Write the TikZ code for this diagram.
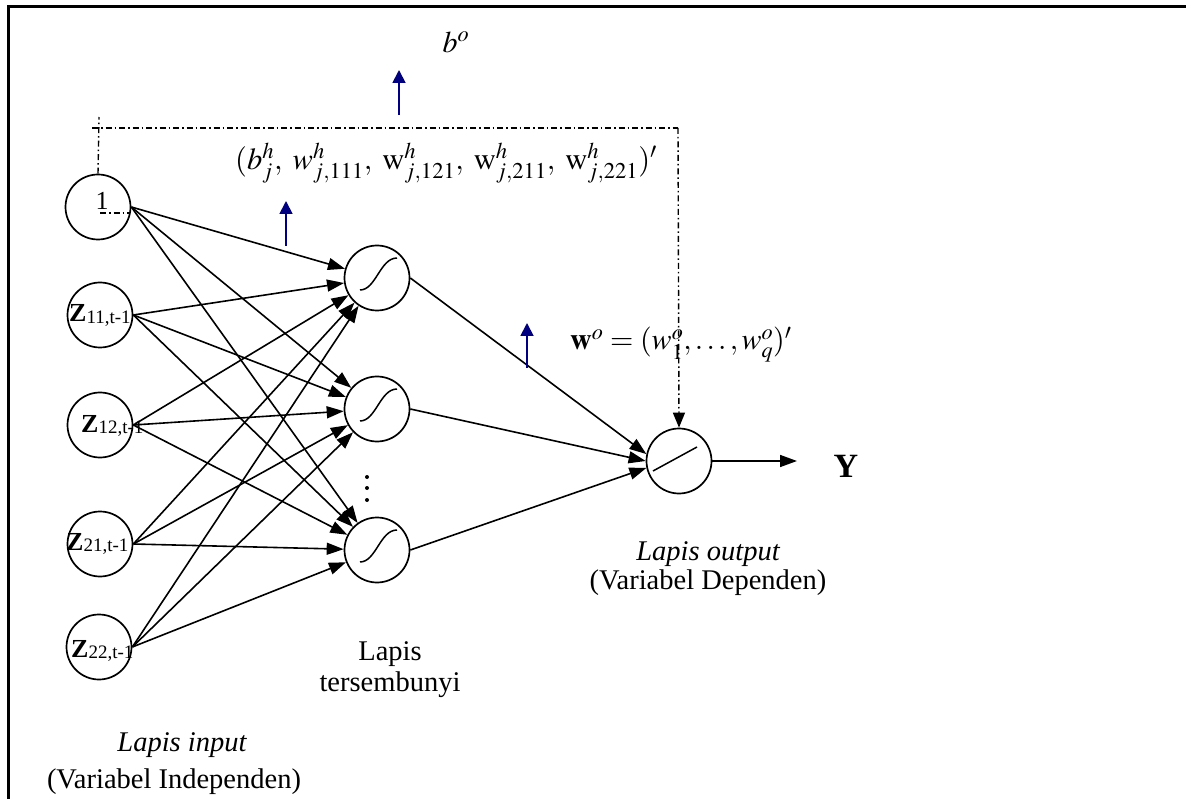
\documentclass[tikz,border=0pt]{standalone}
\usepackage{mathptmx}
\usepackage{fontspec}
\setmainfont{Liberation Serif}
\usetikzlibrary{arrows.meta}
\definecolor{navyarr}{RGB}{0,0,128}
\newcommand{\zlab}[1]{\textbf{Z}\raisebox{-1.5pt}{\fontsize{19}{19}\selectfont #1}}
\tikzset{
  neuron/.style={circle, draw, line width=1.7pt, minimum size=65pt, inner sep=0pt},
  conn/.style={line width=1.6pt, -{Triangle[length=17pt,width=12pt]}},
  dashdotline/.style={line width=1.4pt, dash pattern=on 6pt off 3pt on 1.5pt off 3pt},
  bluearr/.style={draw=navyarr, line width=1.8pt, -{Triangle[length=13pt,width=13pt]}, color=navyarr},
  txt/.style={font=\fontsize{28.5}{33}\selectfont, inner sep=0pt},
  lab/.style={font=\fontsize{26}{26}\selectfont, inner sep=0pt},
  dotmark/.style={circle, fill, inner sep=0pt, minimum size=4pt},
  sigmoidpic/.pic={\draw[line width=1.5pt] (-17,12) .. controls (-1,12) and (3,-20) .. (20,-20);},
  linearpic/.pic={\draw[line width=1.5pt] (-26,10) -- (18,-14);}
}
\begin{document}
\begin{tikzpicture}[x=1pt,y=-1pt]
\useasboundingbox (0,0) rectangle (1186,799);
% frame
\coordinate (fbl) at (8,800);
\coordinate (ftl) at (8,7);
\coordinate (ftr) at (1187,7);
\draw[line width=3pt] (fbl) -- (ftl) -- (ftr);

% neurons
\node[neuron] (i0) at (98,207) {};
\node[neuron] (i1) at (100,315) {};
\node[neuron] (i2) at (100,425) {};
\node[neuron] (i3) at (100,544) {};
\node[neuron] (i4) at (99,647) {};
\node[neuron] (h1) at (377,278) {};
\node[neuron] (h2) at (377,409) {};
\node[neuron] (h3) at (377,550) {};
\node[neuron] (o) at (679,461) {};

\pic at (h1) {sigmoidpic};
\pic at (h2) {sigmoidpic};
\pic at (h3) {sigmoidpic};
\pic at (o) {linearpic};

% input labels
\node[lab, anchor=base] (l0) at (102,210) {1};
\node[lab, anchor=base west] (l1) at (69,322) {\zlab{11,t-1}};
\node[lab, anchor=base west] (l2) at (81,432) {\zlab{12,t-1}};
\node[lab, anchor=base west] (l3) at (66,550) {\zlab{21,t-1}};
\node[lab, anchor=base west] (l4) at (71,657) {\zlab{22,t-1}};

% input -> hidden
\foreach \i in {i0,i1,i2,i3,i4}{
  \foreach \h in {h1,h2,h3}{
    \draw[conn] (\i.east) -- (\h);
  }
}
% hidden -> output
\draw[conn] (h1.east) -- (o.168);
\draw[conn] (h2.east) -- (o.180);
\draw[conn] (h3.east) -- (o.192);

% output arrow
\coordinate (yend) at (797,461);
\draw[conn] (o.east) -- (yend);
\node[font=\fontsize{34}{34}\selectfont\bfseries, inner sep=0pt] (ylab) at (846,466) {Y};

% vertical dots
\node[dotmark] (d1) at (367,477) {};
\node[dotmark] (d2) at (367,488) {};
\node[dotmark] (d3) at (367,500) {};

% dash-dot bias lines
\coordinate (dtop) at (99,117);
\coordinate (dl) at (92,128);
\coordinate (dr) at (678,128);
\draw[dashdotline] (i0.north) -- (dtop);
\draw[dashdotline] (dl) -- (dr);
\draw[dashdotline, -{Triangle[length=15pt,width=12pt]}] (dr) -- (o.north);
\draw[dashdotline] (i0) ++(2,6) -- ++(30,0);

% blue arrows
\coordinate (b1s) at (399,115); \coordinate (b1e) at (399,70);
\coordinate (b2s) at (286,246); \coordinate (b2e) at (286,201);
\coordinate (b3s) at (527,368); \coordinate (b3e) at (527,323);
\draw[bluearr] (b1s) -- (b1e);
\draw[bluearr] (b2s) -- (b2e);
\draw[bluearr] (b3s) -- (b3e);

% formulas
\node[font=\fontsize{30}{30}\selectfont, inner sep=0pt] (bo) at (456,42) {$b^o$};
\node[font=\fontsize{30.5}{30.5}\selectfont, inner sep=0pt, anchor=west] (bh) at (235,163)
  {$(b^h_j,\; w^h_{j,111},\; \mathrm{w}^h_{j,121},\; \mathrm{w}^h_{j,211},\; \mathrm{w}^h_{j,221})'$};
\node[font=\fontsize{30}{30}\selectfont, inner sep=0pt, anchor=base west] (wo) at (570,350)
  {$\mathbf{w}^o = (w^o_1, \ldots, w^o_q)'$};

% layer labels
\node[txt, anchor=base] (t1) at (390,660) {Lapis};
\node[txt, anchor=base] (t2) at (390,691) {tersembunyi};
\node[txt, anchor=base] (t3) at (182,751) {\itshape Lapis input};
\node[txt, anchor=base] (t4) at (174,788) {(Variabel Independen)};
\node[txt, anchor=base] (t5) at (708,560) {\itshape Lapis output};
\node[txt, anchor=base] (t6) at (708,589) {(Variabel Dependen)};
\end{tikzpicture}
\end{document}
